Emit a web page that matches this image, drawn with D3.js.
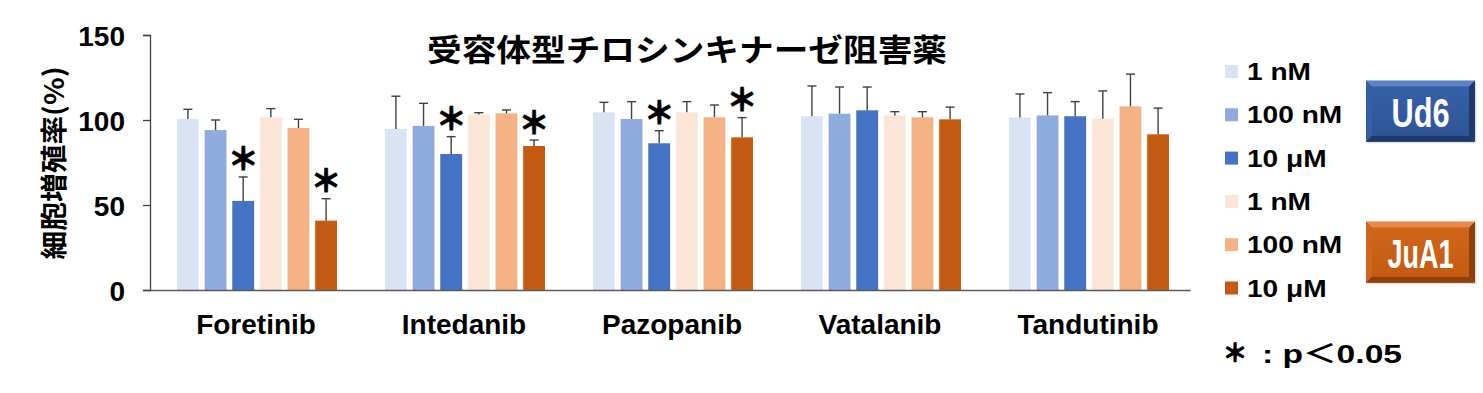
<!DOCTYPE html>
<html><head><meta charset="utf-8">
<script src="https://cdn.jsdelivr.net/npm/d3@7"></script>
<style>body{margin:0;background:#fff;} svg{display:block;}</style>
</head><body>
<svg id="c" width="1483" height="393"></svg>
<script>
const categories = ["Foretinib","Intedanib","Pazopanib","Vatalanib","Tandutinib"];
const seriesKeys = ["ud6_1nM","ud6_100nM","ud6_10uM","jua1_1nM","jua1_100nM","jua1_10uM"];
const legendLabels = ["1 nM","100 nM","10 μM","1 nM","100 nM","10 μM"];
const colors = ["#DAE3F3","#8FAADC","#4472C4","#FBE5D6","#F4B183","#C55A11"];
const yTicks = [0,50,100,150];
const ud6_1nM    = [100.6, 94.7, 104.5, 102.2, 101.4];
const ud6_100nM  = [94.1, 96.5, 100.6, 103.7, 102.7];
const ud6_10uM   = [52.4, 80.0, 86.3, 105.7, 102.2];
const jua1_1nM   = [101.6, 103.3, 104.5, 102.7, 100.8];
const jua1_100nM = [95.3, 103.9, 101.6, 101.6, 108.0];
const jua1_10uM  = [40.8, 84.7, 89.8, 100.4, 91.6];
const ud6_1nM_err    = [5.7, 19.3, 5.9, 17.8, 13.9];
const ud6_100nM_err  = [5.9, 13.3, 10.2, 15.7, 13.4];
const ud6_10uM_err   = [14.1, 10.2, 7.4, 13.7, 8.6];
const jua1_1nM_err   = [5.1, 1.0, 6.3, 2.2, 16.3];
const jua1_100nM_err = [5.1, 2.0, 7.2, 3.3, 19.0];
const jua1_10uM_err  = [12.9, 3.5, 11.6, 7.2, 15.4];
const ud6_10uM_sig  = [true, true, true, false, false];
const jua1_10uM_sig = [true, true, true, false, false];
const title = "受容体型チロシンキナーゼ阻害薬";
const yLabel = "細胞増殖率(%)";
const groupLabels = ["Ud6","JuA1"];
const footStar = "＊";
const footText = ": p＜0.05";

const values = [ud6_1nM, ud6_100nM, ud6_10uM, jua1_1nM, jua1_100nM, jua1_10uM];
const errs = [ud6_1nM_err, ud6_100nM_err, ud6_10uM_err, jua1_1nM_err, jua1_100nM_err, jua1_10uM_err];
const sigs = [null, null, ud6_10uM_sig, null, null, jua1_10uM_sig];

const rows = [];
categories.forEach((c, ci) => seriesKeys.forEach((s, si) => {
  rows.push({cat: c, si, v: values[si][ci], e: errs[si][ci], sig: sigs[si] ? sigs[si][ci] : false});
}));

const svg = d3.select("#c");
const FONT = "'Liberation Sans', Arial, sans-serif";
const CJK = "'Noto Sans CJK JP', sans-serif";

const y = d3.scaleLinear().domain([0,150]).range([290,35]);
const x0 = d3.scaleBand().domain(categories).range([150,1190]).paddingInner(0).paddingOuter(0);
const x1 = d3.scaleBand().domain(d3.range(seriesKeys.length)).range([27,187]).paddingInner(0.21).paddingOuter(0);

function stretch(sel, f){ sel.each(function(){ const l=this.getComputedTextLength(); d3.select(this).attr("textLength", l*f).attr("lengthAdjust","spacingAndGlyphs"); }); }

// title
svg.append("text").attr("x",687).attr("y",61).attr("text-anchor","middle")
  .attr("font-family",CJK).attr("font-weight","bold").attr("font-size",31).attr("fill","#000")
  .attr("textLength",520).attr("lengthAdjust","spacingAndGlyphs").text(title);

// y axis
const yAxis = svg.append("g").attr("transform","translate(150,0)")
  .call(d3.axisLeft(y).tickValues(yTicks).tickSize(7).tickPadding(18).tickFormat(d3.format("d")));
yAxis.select(".domain").attr("stroke","#404040").attr("stroke-width",1.3);
yAxis.selectAll(".tick line").attr("stroke","#404040").attr("stroke-width",1.3);
yAxis.selectAll(".tick text").attr("font-family",FONT).attr("font-weight","bold").attr("font-size",28).attr("fill","#000").attr("dy","0.36em");

// y label
svg.append("text").attr("transform","translate(64,163) rotate(-90)").attr("text-anchor","middle")
  .attr("font-family",CJK).attr("font-weight","bold").attr("font-size",27).attr("fill","#000")
  .attr("textLength",193).attr("lengthAdjust","spacingAndGlyphs").text(yLabel);

// bars
const g = svg.append("g");
g.selectAll("rect.bar").data(rows).join("rect").attr("class","bar")
  .attr("x", d => x0(d.cat) + x1(d.si)).attr("width", x1.bandwidth())
  .attr("y", d => y(d.v)).attr("height", d => y(0) - y(d.v))
  .attr("fill", d => colors[d.si]);

// error bars
const cx = d => x0(d.cat)+x1(d.si)+x1.bandwidth()/2;
const eb = g.selectAll("g.err").data(rows).join("g").attr("class","err")
  .attr("stroke","#404040").attr("stroke-width",1.4);
eb.append("line").attr("x1", cx).attr("x2", cx)
  .attr("y1", d => y(d.v)).attr("y2", d => y(d.v+d.e));
eb.append("line").attr("x1", d => cx(d)-4.5).attr("x2", d => cx(d)+4.5)
  .attr("y1", d => y(d.v+d.e)).attr("y2", d => y(d.v+d.e));

// stars
g.selectAll("text.star").data(rows.filter(d => d.sig)).join("text").attr("class","star")
  .attr("x", cx).attr("y", d => y(d.v+d.e) - 20)
  .attr("text-anchor","middle").attr("dominant-baseline","central")
  .attr("font-family",CJK).attr("font-weight","900").attr("font-size",31).attr("fill","#000")
  .attr("stroke","#000").attr("stroke-width",0.7).text(footStar);

// x axis
const xAxis = svg.append("g").attr("transform","translate(0,290)")
  .call(d3.axisBottom(x0).tickSize(0).tickPadding(24));
xAxis.select(".domain").attr("stroke","#595959").attr("stroke-width",1.3);
xAxis.selectAll(".tick text").attr("font-family",FONT).attr("font-weight","bold").attr("font-size",28).attr("fill","#000")
  .attr("dy","0.71em").attr("dx",2);

// legend
const leg = svg.append("g");
const ly = d3.scaleLinear().domain([0,5]).range([71.5,288]);
leg.selectAll("rect").data(legendLabels).join("rect")
  .attr("x",1225).attr("y",(d,i)=>ly(i)-6.5).attr("width",13).attr("height",13).attr("fill",(d,i)=>colors[i]);
leg.selectAll("text").data(legendLabels).join("text")
  .attr("x",1247).attr("y",(d,i)=>ly(i)+8.5).attr("font-family",FONT).attr("font-weight","bold").attr("font-size",24).attr("fill","#000")
  .text(d=>d).call(stretch,1.17);

// group boxes
const defs = svg.append("defs");
const boxes = [{label: groupLabels[0], y: 80.7, base:"#2F5597", light:"#5B82C6", dark:"#1E3A6B", mid:"#3560A6"},
               {label: groupLabels[1], y: 221.7, base:"#C55A11", light:"#E8894A", dark:"#8E3F0B", mid:"#D0661C"}];
boxes.forEach((b,i) => {
  const gr = defs.append("linearGradient").attr("id","gb"+i).attr("x1",0).attr("y1",0).attr("x2",0).attr("y2",1);
  gr.append("stop").attr("offset",0).attr("stop-color",b.mid);
  gr.append("stop").attr("offset",1).attr("stop-color",b.base);
  const bx = 1366, bw = 109, bh = 61, bv = 6;
  const bg = svg.append("g");
  bg.append("rect").attr("x",bx+1.5).attr("y",b.y+1.5).attr("width",bw).attr("height",bh).attr("fill","#ccc").attr("opacity",0.6);
  bg.append("rect").attr("x",bx).attr("y",b.y).attr("width",bw).attr("height",bh).attr("fill",b.base);
  bg.append("polygon").attr("points",`${bx},${b.y} ${bx+bw},${b.y} ${bx+bw-bv},${b.y+bv} ${bx+bv},${b.y+bv}`).attr("fill",b.light);
  bg.append("polygon").attr("points",`${bx},${b.y} ${bx+bv},${b.y+bv} ${bx+bv},${b.y+bh-bv} ${bx},${b.y+bh}`).attr("fill",b.mid);
  bg.append("polygon").attr("points",`${bx+bw},${b.y} ${bx+bw},${b.y+bh} ${bx+bw-bv},${b.y+bh-bv} ${bx+bw-bv},${b.y+bv}`).attr("fill",b.dark);
  bg.append("polygon").attr("points",`${bx},${b.y+bh} ${bx+bw},${b.y+bh} ${bx+bw-bv},${b.y+bh-bv} ${bx+bv},${b.y+bh-bv}`).attr("fill",b.dark);
  bg.append("rect").attr("x",bx+bv).attr("y",b.y+bv).attr("width",bw-2*bv).attr("height",bh-2*bv).attr("fill","url(#gb"+i+")");
  const t = bg.append("text").attr("text-anchor","middle")
    .attr("font-family","'Liberation Sans Narrow', 'Liberation Sans', sans-serif").attr("font-weight","bold").attr("font-size",40).attr("fill","#fff")
    .text(b.label);
  const w = t.node().getComputedTextLength();
  const target = i===0 ? 58 : 66;
  t.attr("transform", `translate(${bx+bw/2},${b.y+46.5}) scale(${target/w},1)`);
});

// footnote
svg.append("text").attr("x",1235).attr("y",351).attr("text-anchor","middle").attr("dominant-baseline","central")
  .attr("font-family",CJK).attr("font-weight","900").attr("font-size",25).attr("fill","#000")
  .attr("stroke","#000").attr("stroke-width",0.7).text(footStar);
svg.append("text").attr("x",1262).attr("y",363).attr("font-family",FONT+", "+CJK).attr("font-weight","bold").attr("font-size",26).attr("fill","#000")
  .attr("textLength",140).attr("lengthAdjust","spacingAndGlyphs").text(footText);
</script>
</body></html>
